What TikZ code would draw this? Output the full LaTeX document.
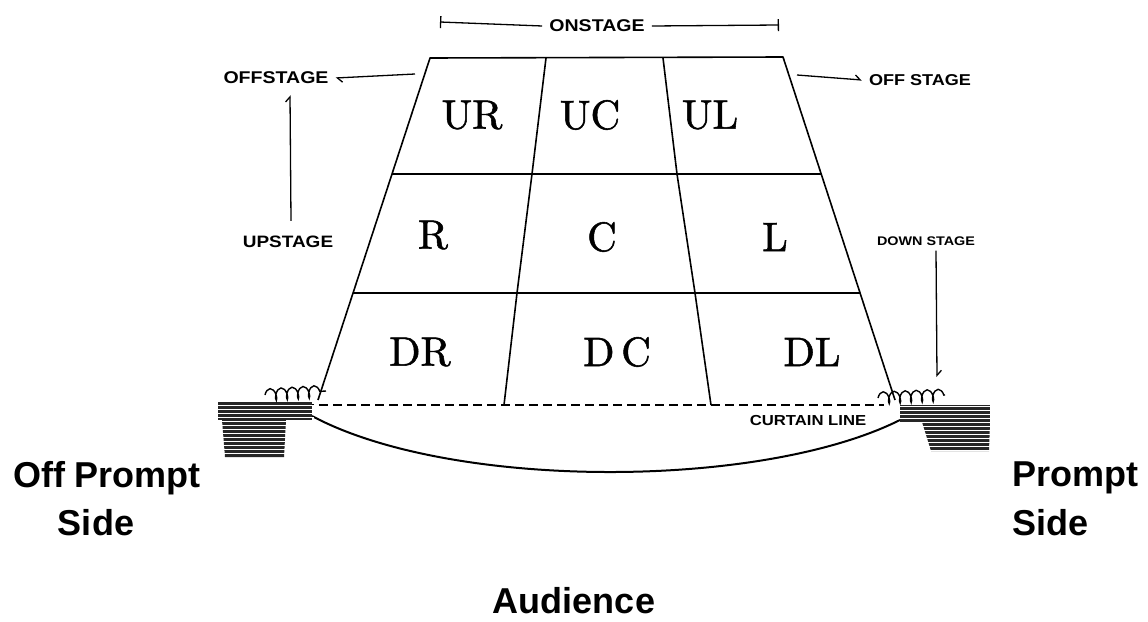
\documentclass[tikz,border=0pt]{standalone}
\usepackage{fontspec}
\usetikzlibrary{arrows.meta,decorations.pathmorphing}
\newfontfamily\handfont[FakeStretch=1.15]{Liberation Sans}
\newfontfamily\labfont{Liberation Sans}
\newfontfamily\cellfont[FakeBold=1.3]{lmroman10-regular.otf}
\begin{document}
\begin{tikzpicture}[x=1pt,y=-1pt,
  stage/.style={line width=1.6pt, line join=round},
  hand/.style={line width=1.3pt},
  barb/.style={-{Straight Barb[harpoon,length=5pt,width=9pt]}},
  cell/.style={font=\cellfont\fontsize{41}{41}\selectfont},
  small/.style={font=\handfont\bfseries\fontsize{17}{17}\selectfont, inner sep=1pt},
  tiny/.style={font=\handfont\bfseries\fontsize{12.5}{12.5}\selectfont, inner sep=1pt},
  big/.style={font=\labfont\bfseries\fontsize{36}{38}\selectfont, inner sep=0pt},
  wing/.style={fill=black!85, draw=none},
  squig/.style={line width=1.4pt, decorate, decoration={coil, aspect=0.45, segment length=11pt, amplitude=6pt}}
]
\useasboundingbox[fill=white] (0,0) rectangle (1148,621);

% stage corners and grid points
\coordinate (TL) at (430,58);
\coordinate (TR) at (783,57);
\coordinate (BL) at (318,400);
\coordinate (BR) at (895,400);
\coordinate (L1) at (392,174);
\coordinate (R1) at (821,174);
\coordinate (L2) at (353,293);
\coordinate (R2) at (860,293);

\draw[stage] (BL) -- (TL) -- (TR) -- (BR);
\draw[stage] (L1) -- (R1);
\draw[stage] (L2) -- (R2);
\draw[stage] (546,58) -- (532,174) -- (517,293) -- (504,405);
\draw[stage] (663,58) -- (677,174) -- (695,293) -- (711,405);

% curtain line
\draw[line width=1.8pt, dash pattern=on 9pt off 5pt] (305,405) -- (884,405);

% apron curve
\draw[line width=2pt] (312,416) .. controls (450,490) and (760,490) .. (900,420);

% wings
\fill[wing] (218,402) rectangle (312,420);
\fill[wing] (222,420) -- (286,420) -- (284,457) -- (225,457) -- cycle;
\fill[wing] (900,405) rectangle (990,422);
\fill[wing] (922,422) -- (990,422) -- (989,451) -- (931,451) -- cycle;
\foreach \y in {405,409,...,455} {
  \draw[white, line width=0.7pt] (216,\y) -- (314,\y);
  \draw[white, line width=0.7pt] (898,\y+1) -- (992,\y+1);
}

% squiggles
\draw[squig] (265,395) -- (326,391);
\draw[squig] (878,398) -- (945,395);

% cell labels
\node[cell] (UR) at (472,115) {UR};
\node[cell] (UC) at (590,115) {UC};
\node[cell] (UL) at (710,115) {UL};
\node[cell] (R) at (433,235) {R};
\node[cell] (C) at (602,237) {C};
\node[cell] (L) at (775,237) {L};
\node[cell] (DR) at (420,352) {DR};
\node[cell] (DC) at (617,352) {D\,C};
\node[cell] (DL) at (812,352) {DL};

% handwritten labels
\node[small] (onstage) at (597,26) {ONSTAGE};
\coordinate (onL) at (440,22);
\coordinate (onR) at (779,25);
\draw[hand, -{Bar[width=12pt]}] ([xshift=-6pt]onstage.west) -- (onL);
\draw[hand, -{Bar[width=12pt]}] ([xshift=6pt]onstage.east) -- (onR);

\node[small] (offL) at (276,78) {OFFSTAGE};
\coordinate (offLa) at (415,74);
\draw[hand, barb] (offLa) -- ([xshift=6pt]offL.east);

\node[small, font=\handfont\bfseries\fontsize{16.5}{16.5}\selectfont] (up) at (288,242) {UPSTAGE};
\draw[hand, barb] ([xshift=3pt,yshift=14pt]up.north) -- ([xshift=14pt,yshift=-10pt]offL.south);

\node[small, font=\handfont\bfseries\fontsize{15.7}{15.7}\selectfont] (offR) at (920,80) {OFF STAGE};
\coordinate (offRa) at (797,75);
\draw[hand, barb] (offRa) -- ([xshift=-6pt]offR.west);

\node[tiny] (down) at (926,241) {DOWN STAGE};
\coordinate (downB) at (937,377);
\draw[hand, barb] ([xshift=10pt,yshift=-4pt]down.south) -- (downB);

\node[tiny, font=\handfont\bfseries\fontsize{14.5}{14.5}\selectfont] (curtain) at (808,421) {CURTAIN LINE};

% big labels
\node[big] (offp1) at (107,478) {Off Prompt};
\node[big] (offp2) at (96,523) {Side};
\node[big, anchor=west] (pr1) at (1012,478) {Prompt};
\node[big, anchor=west] (pr2) at (1012,523) {Side};
\node[big] (aud) at (574,601) {Audience};
\end{tikzpicture}
\end{document}
